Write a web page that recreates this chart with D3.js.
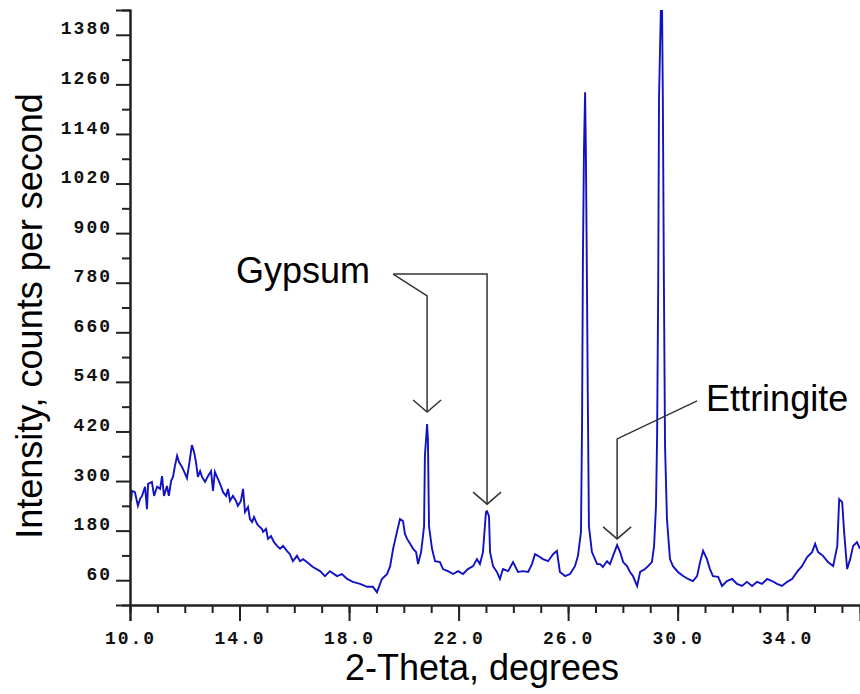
<!DOCTYPE html>
<html>
<head>
<meta charset="utf-8">
<script src="https://cdn.jsdelivr.net/npm/d3@7"></script>
<style>
  body { margin: 0; background: #fff; }
  svg { display: block; }
</style>
</head>
<body>
<script>
// 2-theta (degrees) and intensity (counts per second)
const twoTheta = [10.04,10.07,10.18,10.29,10.37,10.44,10.55,10.62,10.66,10.80,10.88,10.99,11.10,11.17,11.24,11.35,11.42,11.50,11.57,11.64,11.72,11.79,11.90,11.97,12.08,12.15,12.26,12.34,12.41,12.48,12.56,12.63,12.74,12.85,12.96,13.03,13.10,13.21,13.29,13.40,13.51,13.58,13.65,13.76,13.87,13.94,14.05,14.13,14.20,14.31,14.38,14.46,14.53,14.64,14.71,14.82,14.86,14.97,15.04,15.15,15.26,15.37,15.48,15.59,15.73,15.84,15.95,16.10,16.21,16.32,16.46,16.68,16.94,17.12,17.30,17.56,17.74,17.93,18.14,18.40,18.66,18.87,19.02,19.20,19.39,19.50,19.61,19.75,19.86,19.97,20.04,20.12,20.23,20.34,20.45,20.52,20.63,20.70,20.74,20.77,20.85,20.88,20.92,21.03,21.14,21.32,21.43,21.61,21.80,21.98,22.16,22.34,22.53,22.67,22.78,22.89,23.00,23.04,23.11,23.15,23.26,23.40,23.51,23.62,23.81,23.99,24.17,24.35,24.54,24.68,24.79,24.90,25.08,25.27,25.45,25.59,25.70,25.89,26.07,26.25,26.36,26.47,26.51,26.54,26.58,26.62,26.65,26.69,26.72,26.76,26.87,27.06,27.17,27.27,27.42,27.53,27.64,27.79,27.90,28.01,28.15,28.26,28.37,28.52,28.63,28.81,28.92,29.06,29.14,29.21,29.25,29.29,29.32,29.39,29.43,29.46,29.50,29.54,29.61,29.72,29.83,30.01,30.20,30.38,30.56,30.71,30.82,30.93,31.07,31.18,31.29,31.48,31.62,31.80,31.99,32.17,32.35,32.53,32.72,32.90,33.08,33.27,33.45,33.63,33.81,34.00,34.18,34.36,34.54,34.73,34.91,35.02,35.13,35.31,35.49,35.68,35.83,35.90,36.01,36.08,36.19,36.30,36.41,36.55,36.66];
const intensity = [252,276,273,240,257,264,286,232,293,298,264,286,281,312,264,288,264,300,310,336,361,346,334,324,307,336,387,370,346,310,324,310,298,312,324,276,322,305,293,273,264,281,252,264,252,240,252,281,225,237,208,201,213,196,191,184,177,184,160,167,152,143,136,143,131,123,106,119,106,111,104,92,82,70,82,70,75,63,56,51,44,44,31,63,75,94,136,177,208,203,172,160,148,136,128,99,128,167,191,361,438,402,191,136,106,104,87,82,75,82,75,87,94,111,99,128,225,227,215,128,94,80,63,87,82,104,80,82,80,99,123,119,111,106,123,131,80,70,75,94,119,177,443,830,1104,1241,1091,765,499,191,128,99,99,92,106,99,119,145,128,104,94,80,70,46,80,87,94,104,143,240,409,765,1225,1450,1450,1225,765,385,208,111,94,80,70,63,58,70,104,131,111,87,70,68,46,58,63,51,46,56,46,56,51,63,58,51,46,56,63,80,94,116,128,148,128,119,104,94,143,256,249,177,87,111,143,152,136];

// axis ticks
const xMajorTicks = [10, 14, 18, 22, 26, 30, 34];
const xMinorTicks = d3.range(11, 37);
const yMajorTicks = [60, 180, 300, 420, 540, 660, 780, 900, 1020, 1140, 1260, 1380];
const yMinorTicks = [120, 240, 360, 480, 600, 720, 840, 960, 1080, 1200, 1320];

// annotations: label, label anchor, and arrow paths in data units
const labels = [
  { text: "Gypsum", t: 13.87, i: 779 },
  { text: "Ettringite", t: 31.04, i: 469 }
];
const arrows = [
  [[19.61, 801], [20.85, 748], [20.85, 467]],
  [[19.61, 801], [23.04, 801], [23.04, 244]],
  [[30.71, 494], [27.79, 402], [27.79, 160]]
];

const width = 860, height = 694;

const svg = d3.select("body")
  .append("svg")
  .attr("width", width)
  .attr("height", height);

const x = d3.scaleLinear().domain([10, 36.66]).range([130, 860]);
const y = d3.scaleLinear().domain([0, 1440]).range([605, 10]);

svg.append("clipPath")
  .attr("id", "plot")
  .append("rect")
  .attr("x", x(10))
  .attr("y", y(1440))
  .attr("width", x(36.66) - x(10))
  .attr("height", y(0) - y(1440));

// the scan
const data = d3.zip(twoTheta, intensity);
svg.append("path")
  .datum(data)
  .attr("clip-path", "url(#plot)")
  .attr("fill", "none")
  .attr("stroke", "#1212c4")
  .attr("stroke-width", 1.9)
  .attr("stroke-linejoin", "miter")
  .attr("d", d3.line().x(d => x(d[0])).y(d => y(d[1])));

// x axis
const xAxis = svg.append("g").attr("transform", `translate(0,${y(0)})`);
xAxis.call(d3.axisBottom(x).tickValues(xMinorTicks).tickSize(8).tickFormat(""));
xAxis.append("g").call(d3.axisBottom(x).tickValues(xMajorTicks).tickSize(16).tickPadding(10).tickFormat(d3.format(".1f")));

// y axis
const yAxis = svg.append("g").attr("transform", `translate(${x(10)},0)`);
yAxis.call(d3.axisLeft(y).tickValues(yMinorTicks).tickSize(8).tickFormat(""));
yAxis.append("g").call(d3.axisLeft(y).tickValues(yMajorTicks).tickSize(14).tickPadding(4).tickFormat(d3.format("d")));

svg.selectAll(".domain").attr("stroke", "#222").attr("stroke-width", 2);
svg.selectAll(".tick line").attr("stroke", "#222").attr("stroke-width", 2);
svg.selectAll(".tick text")
  .attr("fill", "#111")
  .style("font-family", "'Liberation Mono', monospace")
  .style("font-weight", "bold")
  .style("font-size", "18px")
  .style("letter-spacing", "2px");
yAxis.selectAll(".tick text").attr("dy", "-0.05em");

// axis titles
svg.append("text")
  .attr("x", 482)
  .attr("y", 680)
  .attr("text-anchor", "middle")
  .style("font-family", "'Liberation Sans', Arial, sans-serif")
  .style("font-size", "36px")
  .text("2-Theta, degrees");

svg.append("text")
  .attr("transform", "translate(42,316) rotate(-90)")
  .attr("text-anchor", "middle")
  .style("font-family", "'Liberation Sans', Arial, sans-serif")
  .style("font-size", "36px")
  .text("Intensity, counts per second");

// annotation arrows
const ann = svg.append("g");
ann.selectAll("path.lead")
  .data(arrows)
  .join("path")
  .attr("class", "lead")
  .attr("fill", "none")
  .attr("stroke", "#333")
  .attr("stroke-width", 1.5)
  .attr("d", d => d3.line().x(p => x(p[0])).y(p => y(p[1]))(d));

ann.selectAll("path.head")
  .data(arrows)
  .join("path")
  .attr("class", "head")
  .attr("fill", "none")
  .attr("stroke", "#333")
  .attr("stroke-width", 1.5)
  .attr("d", d => {
    const tip = d[d.length - 1];
    const tx = x(tip[0]), ty = y(tip[1]);
    return `M${tx - 14},${ty - 12}L${tx},${ty}L${tx + 14},${ty - 12}`;
  });

ann.selectAll("text")
  .data(labels)
  .join("text")
  .attr("x", d => x(d.t))
  .attr("y", d => y(d.i))
  .style("font-family", "'Liberation Sans', Arial, sans-serif")
  .style("font-size", "36px")
  .attr("fill", "#000")
  .text(d => d.text);
</script>
</body>
</html>
